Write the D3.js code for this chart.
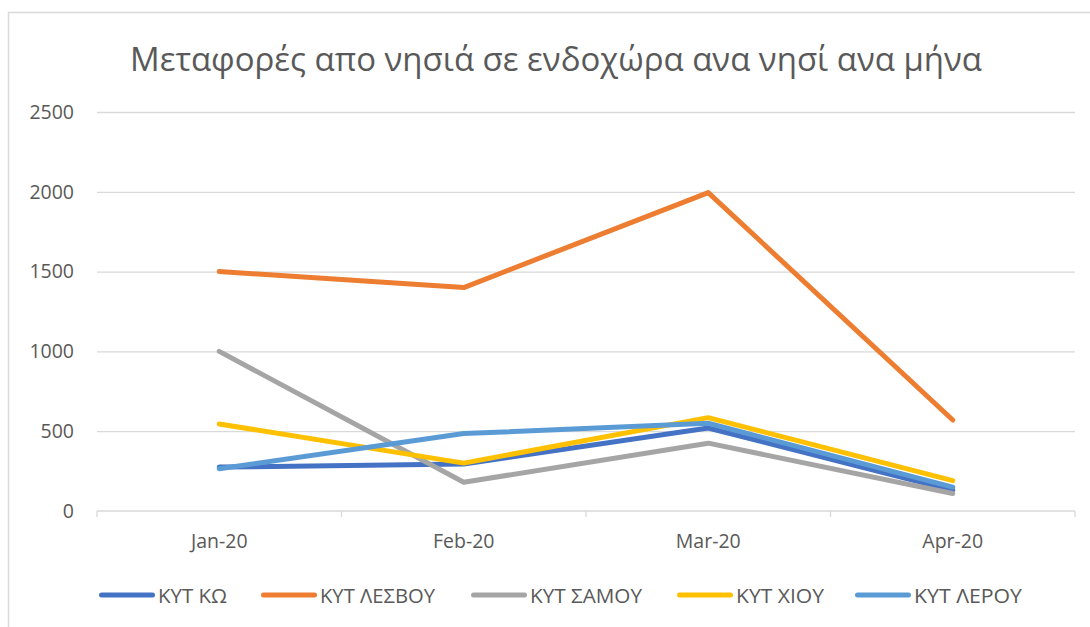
<!DOCTYPE html>
<html lang="el">
<head>
  <meta charset="UTF-8">
  <title>Μεταφορές απο νησιά σε ενδοχώρα</title>
  <script src="https://d3js.org/d3.v7.min.js"></script>
  <style>
    body { margin: 0; background: #fff; }
    svg text { font-family: 'Open Sans', 'Noto Sans', sans-serif; fill: #595959; }
  </style>
</head>
<body>
<script>
  // data
  var months = ["Jan-20", "Feb-20", "Mar-20", "Apr-20"];
  var seriesNames = ["ΚΥΤ ΚΩ", "ΚΥΤ ΛΕΣΒΟΥ", "ΚΥΤ ΣΑΜΟΥ", "ΚΥΤ ΧΙΟΥ", "ΚΥΤ ΛΕΡΟΥ"];
  var seriesColors = ["#4472C4", "#ED7D31", "#A5A5A5", "#FFC000", "#5B9BD5"];
  var kos    = [275, 295, 520, 130];
  var lesvos = [1500, 1400, 1995, 570];
  var samos  = [1000, 180, 425, 110];
  var chios  = [545, 300, 585, 190];
  var leros  = [265, 485, 550, 150];
  var yTicks = [0, 500, 1000, 1500, 2000, 2500];
  var seriesValues = [kos, lesvos, samos, chios, leros];

  var width = 1090, height = 627;
  var plotLeft = 97, plotRight = 1075, plotTop = 112, plotBottom = 511;
  var labelSize = 19.5;

  var svg = d3.select("body").append("svg")
    .attr("width", width)
    .attr("height", height);

  // chart frame (only left and top edges are inside the picture)
  svg.append("path")
    .attr("d", "M8.5," + height + "V12.5H" + width)
    .attr("fill", "none")
    .attr("stroke", "#d9d9d9")
    .attr("stroke-width", 1.5);

  var x = d3.scaleBand().domain(months).range([plotLeft, plotRight]);
  var y = d3.scaleLinear().domain([0, 2500]).range([plotBottom, plotTop]);

  // gridlines
  svg.append("g")
    .attr("transform", "translate(" + plotLeft + ",0)")
    .call(d3.axisLeft(y).tickValues(yTicks.slice(1)).tickSize(-(plotRight - plotLeft)).tickFormat(""))
    .call(g => g.select(".domain").remove())
    .call(g => g.selectAll("line").attr("stroke", "#d9d9d9").attr("stroke-width", 1.3));

  // y labels
  svg.append("g")
    .attr("transform", "translate(" + plotLeft + ",0)")
    .call(d3.axisLeft(y).tickValues(yTicks).tickSize(0).tickPadding(23).tickFormat(d3.format("d")))
    .call(g => g.select(".domain").remove())
    .call(g => g.selectAll("text").attr("font-size", labelSize).attr("fill", "#595959"));

  // x axis baseline + boundary ticks
  var bounds = months.map(m => x(m)).concat([plotRight]);
  svg.append("line")
    .attr("x1", plotLeft).attr("x2", plotRight)
    .attr("y1", y(0)).attr("y2", y(0))
    .attr("stroke", "#d9d9d9").attr("stroke-width", 1.3);
  svg.append("g").selectAll("line")
    .data(bounds)
    .join("line")
    .attr("x1", d => d).attr("x2", d => d)
    .attr("y1", y(0)).attr("y2", y(0) + 6)
    .attr("stroke", "#d9d9d9").attr("stroke-width", 1.3);

  svg.append("g")
    .attr("transform", "translate(0," + y(0) + ")")
    .call(d3.axisBottom(x).tickSize(0).tickPadding(23))
    .call(g => g.select(".domain").remove())
    .call(g => g.selectAll("text").attr("font-size", labelSize).attr("fill", "#595959"));

  // lines
  var line = d3.line()
    .x((d, i) => x(months[i]) + x.bandwidth() / 2)
    .y(d => y(d));

  svg.append("g").selectAll("path")
    .data(seriesValues)
    .join("path")
    .attr("d", d => line(d))
    .attr("fill", "none")
    .attr("stroke", (d, i) => seriesColors[i])
    .attr("stroke-width", 5)
    .attr("stroke-linecap", "round")
    .attr("stroke-linejoin", "round");

  // title
  svg.append("text")
    .attr("x", 556)
    .attr("y", 71)
    .attr("text-anchor", "middle")
    .attr("font-size", 32)
    .attr("textLength", 852)
    .attr("lengthAdjust", "spacingAndGlyphs")
    .text("Μεταφορές απο νησιά σε ενδοχώρα ανα νησί ανα μήνα");

  // legend
  var legendStarts = [99, 261, 471, 677, 855];
  var legendTextW = [69, 115, 112, 88, 108];
  var legend = svg.append("g").selectAll("g")
    .data(seriesNames)
    .join("g")
    .attr("transform", (d, i) => "translate(" + legendStarts[i] + ",595)");
  legend.append("line")
    .attr("x1", 2.5).attr("x2", 53.5)
    .attr("stroke", (d, i) => seriesColors[i])
    .attr("stroke-width", 5)
    .attr("stroke-linecap", "round");
  legend.append("text")
    .attr("x", 59)
    .attr("y", 8)
    .attr("font-size", 19.5)
    .attr("textLength", (d, i) => legendTextW[i])
    .attr("lengthAdjust", "spacingAndGlyphs")
    .text(d => d);
</script>
</body>
</html>
